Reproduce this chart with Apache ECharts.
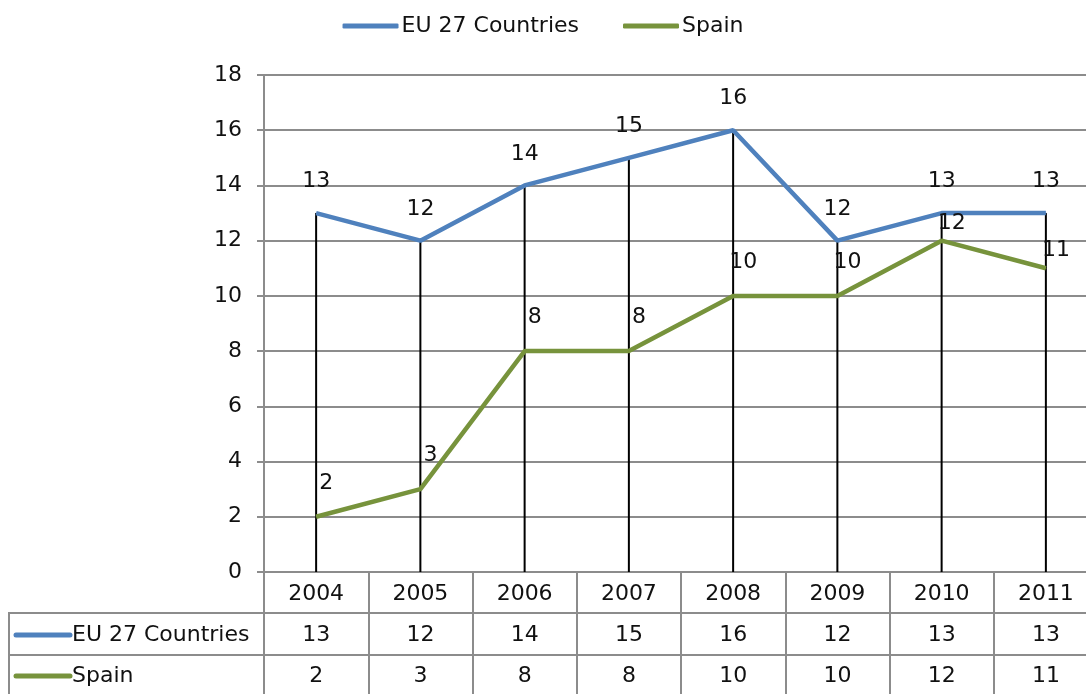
<!DOCTYPE html>
<html>
<head>
<meta charset="utf-8">
<script src="https://cdn.jsdelivr.net/npm/echarts@6/dist/echarts.min.js"></script>
<style>
  html, body { margin: 0; padding: 0; background: #fff; }
  #chart { width: 1086px; height: 694px; }
</style>
</head>
<body>
<div id="chart"></div>
<script>
const years = ['2004', '2005', '2006', '2007', '2008', '2009', '2010', '2011'];
const euValues = [13, 12, 14, 15, 16, 12, 13, 13];
const spainValues = [2, 3, 8, 8, 10, 10, 12, 11];
const seriesNames = ['EU 27 Countries', 'Spain'];
const colors = ['#4F81BD', '#77933C'];

// drop lines go from the highest point down to the axis
const dropValues = years.map((y, i) => Math.max(euValues[i], spainValues[i]));

const font = 'DejaVu Sans';
const fs = 22;
const gridCol = '#8c8c8c';

const chart = echarts.init(document.getElementById('chart'));

const tableAxis = (data, offset, showTicks) => ({
  type: 'category',
  data: data.map(String),
  position: 'bottom',
  offset: offset,
  gridIndex: 0,
  boundaryGap: true,
  axisLine: { show: showTicks, lineStyle: { color: gridCol, width: 2 } },
  axisTick: { show: showTicks, interval: 0, length: 122, lineStyle: { color: gridCol, width: 2 } },
  axisLabel: { interval: 0, margin: 11, fontSize: fs, color: '#111', fontFamily: font },
  splitLine: { show: false }
});

const valueLabel = (dist, offset) => ({
  show: true, position: 'top', distance: dist, offset: offset,
  fontSize: fs, color: '#111', fontFamily: font
});

// the last two Spain labels sit closer to their points (crowded under the EU line)
const spainData = spainValues.map((v, i) =>
  i >= 6 ? { value: v, label: { distance: 6 } } : v);

chart.setOption({
  animation: false,
  textStyle: { fontFamily: font },
  legend: {
    top: 10,
    left: 'center',
    itemGap: 44,
    itemWidth: 56,
    itemHeight: 5,
    icon: 'roundRect',
    textStyle: { fontSize: fs, color: '#111', fontFamily: font, padding: [0, 0, 0, -2] },
    data: seriesNames
  },
  grid: { left: 264, width: 834, top: 75, height: 497, outerBoundsMode: 'none', containLabel: false },
  xAxis: [
    tableAxis(years, 0, true),
    tableAxis(euValues, 41, false),
    tableAxis(spainValues, 82, false)
  ],
  yAxis: {
    type: 'value',
    min: 0,
    max: 18,
    interval: 2,
    axisLine: { show: true, lineStyle: { color: gridCol, width: 2 } },
    axisTick: { show: true, length: 7, lineStyle: { color: gridCol, width: 2 } },
    axisLabel: { fontSize: fs, color: '#111', margin: 22, fontFamily: font },
    splitLine: { lineStyle: { color: gridCol, width: 2 } }
  },
  series: [
    {
      type: 'bar',
      data: dropValues,
      barWidth: 2,
      itemStyle: { color: '#000' },
      silent: true,
      z: 1
    },
    {
      name: seriesNames[0],
      type: 'line',
      data: euValues,
      symbol: 'circle',
      symbolSize: 1,
      showSymbol: true,
      lineStyle: { color: colors[0], width: 4.5 },
      itemStyle: { color: colors[0] },
      label: valueLabel(20, [0, 0]),
      z: 3
    },
    {
      name: seriesNames[1],
      type: 'line',
      data: spainData,
      symbol: 'circle',
      symbolSize: 1,
      showSymbol: true,
      lineStyle: { color: colors[1], width: 4.5 },
      itemStyle: { color: colors[1] },
      label: valueLabel(22, [10, 0]),
      z: 3
    }
  ],
  graphic: [
    // table frame for the legend column
    { type: 'line', shape: { x1: 8, y1: 613, x2: 1086, y2: 613 }, style: { stroke: gridCol, lineWidth: 2 }, silent: true },
    { type: 'line', shape: { x1: 8, y1: 655, x2: 1086, y2: 655 }, style: { stroke: gridCol, lineWidth: 2 }, silent: true },
    { type: 'line', shape: { x1: 9, y1: 613, x2: 9, y2: 694 }, style: { stroke: gridCol, lineWidth: 2 }, silent: true },
    { type: 'line', shape: { x1: 16, y1: 635, x2: 70, y2: 635 }, style: { stroke: colors[0], lineWidth: 5, lineCap: 'round' }, silent: true },
    { type: 'text', x: 72, y: 635, style: { text: seriesNames[0], fontSize: fs, fill: '#111', fontFamily: font, verticalAlign: 'middle' }, silent: true },
    { type: 'line', shape: { x1: 16, y1: 676, x2: 70, y2: 676 }, style: { stroke: colors[1], lineWidth: 5, lineCap: 'round' }, silent: true },
    { type: 'text', x: 72, y: 676, style: { text: seriesNames[1], fontSize: fs, fill: '#111', fontFamily: font, verticalAlign: 'middle' }, silent: true }
  ]
});
</script>
</body>
</html>
